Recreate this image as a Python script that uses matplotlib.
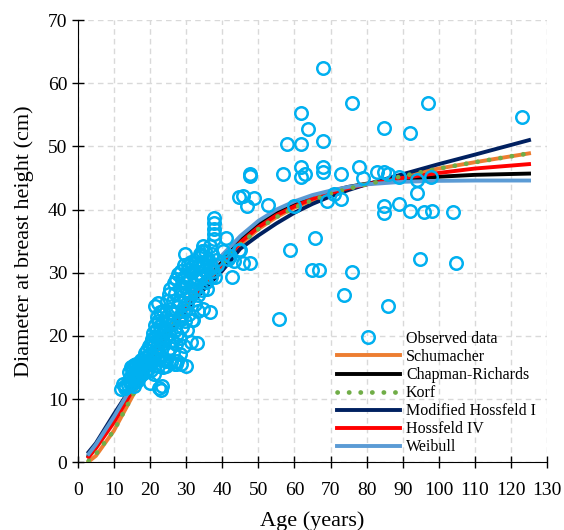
import numpy as np
import matplotlib.pyplot as plt

plt.rcParams['font.family'] = ['Liberation Serif', 'DejaVu Serif']

# observed data (age, dbh)
obs_age = [
    12.0, 12.5, 13.0, 13.2,
    14.0, 14.2, 14.5, 14.3, 14.6, 14.8,
    15.0, 15.2, 15.3, 15.5, 15.6, 15.8, 15.1,
    16.0, 16.2, 16.4, 16.5, 16.7, 16.8,
    17.0, 17.2, 17.5, 17.6, 17.8, 17.3,
    18.0, 18.2, 18.5, 18.6, 18.8,
    19.0, 19.2, 19.4, 19.6, 19.8, 19.5,
    20.0, 20.1, 20.3, 20.4, 20.5, 20.7, 20.9, 20.2,
    21.0, 21.2, 21.3, 21.4, 21.5, 21.7, 21.8, 21.9, 21.4, 21.1,
    22.0, 22.1, 22.2, 22.4, 22.5, 22.6, 22.8, 22.9, 22.3, 22.7,
    23.0, 23.1, 23.3, 23.4, 23.5, 23.6, 23.8, 23.9, 23.2,
    24.0, 24.2, 24.3, 24.5, 24.6, 24.8, 24.9, 24.4,
    25.0, 25.2, 25.3, 25.5, 25.6, 25.8, 25.9, 25.4,
    26.0, 26.2, 26.3, 26.5, 26.6, 26.8, 26.9, 26.4,
    27.0, 27.2, 27.3, 27.4, 27.6, 27.7, 27.9, 27.5, 27.1,
    28.0, 28.2, 28.3, 28.5, 28.6, 28.8, 28.9, 28.4, 28.7,
    29.0, 29.2, 29.3, 29.5, 29.6, 29.7, 29.8, 29.9, 29.4,
    30.0, 30.2, 30.3, 30.5, 30.7, 30.9, 30.4,
    31.0, 31.2, 31.4, 31.6, 31.8, 31.3, 31.5,
    32.0, 32.2, 32.4, 32.6, 32.9, 32.0, 32.5,
    33.0, 33.2, 33.4, 33.6, 33.9, 33.3,
    34.0, 34.2, 34.4, 34.6, 34.8, 34.8, 34.5,
    35.0, 35.2, 35.5, 35.7, 35.9,
    36.0, 36.3, 36.6, 36.6, 36.8,
    37.0, 37.3, 37.6, 37.6, 37.6, 37.6, 37.8, 37.5,
    38.0, 38.3, 38.6,
    41.0, 41.7, 42.6, 40.3, 44.9, 45.8, 47.7, 42.1, 43.4, 44.7,
    67.9, 75.9, 96.9, 123.0, 61.7, 63.7, 57.9, 61.8, 67.8, 84.7, 91.9,
    47.8, 47.8, 56.8, 61.7, 61.8, 63.0, 67.9, 67.9, 72.8, 77.8, 79.0,
    82.9, 84.9, 85.9, 88.9, 94.0, 97.8, 94.0, 88.9, 84.9, 84.9, 91.9,
    95.8, 98.1, 103.9, 44.7, 45.8, 48.8, 46.8, 52.8, 59.8, 68.9, 71.0,
    73.0, 58.8, 65.8, 64.8, 66.9, 75.9, 94.8, 104.9, 73.8, 85.8, 55.8,
]
obs_dbh = [
    11.6, 12.3, 12.0, 11.8,
    12.2, 13.0, 12.6, 14.2, 15.0, 13.6,
    12.4, 13.3, 14.7, 15.4, 12.0, 13.9, 15.0,
    14.4, 15.6, 13.2, 12.8, 15.0, 14.0,
    13.5, 15.8, 14.6, 16.2, 13.9, 15.2,
    15.0, 16.5, 14.2, 17.3, 15.6,
    16.0, 17.8, 14.8, 16.9, 18.4, 15.5,
    17.2, 12.5, 18.8, 15.9, 19.5, 16.7, 20.4, 14.6,
    17.5, 18.6, 21.8, 15.4, 19.8, 20.9, 16.3, 23.0, 24.8, 14.0,
    18.2, 22.3, 25.2, 19.6, 11.7, 16.9, 23.8, 20.7, 15.2, 21.5,
    11.5, 17.8, 19.3, 22.0, 15.0, 24.0, 20.4, 16.4, 12.1,
    18.8, 21.2, 23.0, 16.0, 25.5, 19.9, 17.4, 15.3,
    22.5, 20.3, 26.6, 18.1, 24.2, 15.8, 21.7, 27.5,
    19.4, 23.6, 25.6, 17.3, 28.4, 21.0, 15.6, 22.4,
    26.8, 18.7, 29.0, 24.5, 20.3, 29.8, 22.7, 16.0, 15.5,
    25.3, 27.6, 19.7, 30.2, 23.2, 28.8, 21.4, 17.2, 15.6,
    26.5, 24.0, 29.4, 18.4, 27.8, 33.0, 22.3, 15.2, 31.2,
    28.3, 25.2, 20.9, 30.6, 27.0, 23.4, 31.4,
    29.2, 26.2, 31.7, 22.5, 28.0, 19.0, 30.9,
    30.2, 27.3, 25.1, 29.4, 18.9, 22.5, 31.5,
    28.8, 31.3, 26.5, 30.0, 33.0, 24.0,
    29.5, 32.6, 27.3, 31.0, 34.3, 24.3, 33.5,
    30.4, 33.5, 28.5, 31.8, 27.4,
    32.2, 30.6, 23.8, 34.2, 29.4,
    31.0, 33.0, 35.4, 36.2, 37.0, 37.8, 38.7, 30.2,
    29.4, 32.0, 31.3,
    35.5, 32.1, 29.4, 33.4, 33.6, 31.5, 31.5, 32.7, 31.8, 33.6,
    62.4, 56.8, 56.8, 54.6, 55.3, 52.7, 50.4, 50.4, 50.9, 52.9, 52.2,
    45.7, 45.3, 45.6, 46.8, 45.2, 45.7, 46.8, 45.9, 45.6, 46.7, 45.0,
    45.9, 45.9, 45.7, 45.1, 44.7, 45.1, 42.6, 40.9, 40.5, 39.4, 39.8,
    39.6, 39.8, 39.6, 42.0, 42.1, 41.8, 40.5, 40.8, 40.5, 41.3, 42.4,
    41.7, 33.6, 35.5, 30.4, 30.4, 30.1, 32.1, 31.6, 26.4, 24.7, 22.6,
]

# fitted model curves
model_age = [3, 5, 10, 15, 20, 25, 30, 35, 40, 45, 50, 55, 60, 65, 70, 75, 80, 90, 100, 110, 125]
schumacher = [0.1, 1.0, 5.0, 10.3, 15.6, 20.4, 24.6, 28.2, 31.2, 34.5, 36.9, 38.8, 40.3, 41.5, 42.5, 43.3, 44.0, 45.3, 46.5, 47.5, 48.9]
chapman = [1.0, 2.6, 7.2, 12.0, 16.7, 21.1, 25.1, 28.6, 31.7, 35.2, 37.6, 39.5, 40.9, 42.0, 42.9, 43.6, 44.1, 44.8, 45.2, 45.5, 45.7]
korf = [0.2, 1.3, 5.0, 10.4, 15.7, 20.5, 24.7, 28.3, 31.3, 34.5, 36.9, 38.8, 40.3, 41.5, 42.5, 43.3, 44.0, 45.3, 46.5, 47.5, 48.9]
mod_hossfeld = [1.6, 3.0, 7.6, 12.0, 16.3, 20.4, 24.1, 27.4, 30.3, 33.8, 35.9, 37.8, 39.5, 40.9, 42.1, 43.1, 44.0, 45.6, 47.2, 48.7, 51.0]
hossfeld4 = [0.8, 2.2, 6.3, 11.2, 16.2, 20.8, 24.9, 28.4, 31.4, 34.8, 37.2, 39.1, 40.5, 41.7, 42.6, 43.4, 44.0, 45.0, 45.8, 46.5, 47.2]
weibull = [1.3, 2.8, 7.2, 12.0, 16.8, 21.3, 25.5, 29.3, 32.8, 35.8, 38.2, 40.0, 41.3, 42.3, 43.0, 43.6, 44.0, 44.4, 44.55, 44.6, 44.6]

fig = plt.figure(figsize=(5.64, 5.30), dpi=100)
ax = fig.add_axes([0.138, 0.128, 0.832, 0.834])

ax.plot(obs_age, obs_dbh, 'o', ms=9, mfc='none', mec='#00B0F0', mew=1.8, zorder=5, label='Observed data')
ax.plot(model_age, schumacher, color='#ED7D31', lw=2.8, label='Schumacher', zorder=3)
ax.plot(model_age, chapman, color='black', lw=2.8, label='Chapman-Richards', zorder=3)
ax.plot(model_age, korf, color='#70AD47', lw=3.4, ls=(0, (0.05, 2.4)), dash_capstyle='round', label='Korf', zorder=4)
ax.plot(model_age, mod_hossfeld, color='#002060', lw=2.8, label='Modified Hossfeld I', zorder=3)
ax.plot(model_age, hossfeld4, color='#FF0000', lw=2.8, label='Hossfeld IV', zorder=3)
ax.plot(model_age, weibull, color='#5B9BD5', lw=2.8, label='Weibull', zorder=3)

ax.set_xlim(0, 130)
ax.set_ylim(0, 70)
ax.set_xticks(np.arange(0, 131, 10))
ax.set_yticks(np.arange(0, 71, 10))
ax.grid(True, color='#D9D9D9', ls=(0, (4, 3)), lw=1)
ax.set_axisbelow(True)
for s in ('top', 'right'):
    ax.spines[s].set_visible(False)
ax.tick_params(direction='inout', length=8, width=1, labelsize=14)
ax.tick_params(axis='x', pad=10)
ax.set_xlabel('Age (years)', fontsize=16, labelpad=9)
ax.set_ylabel('Diameter at breast height (cm)', fontsize=16, labelpad=10)

ax.legend(loc='lower right', bbox_to_anchor=(1.0, -0.01), frameon=False, fontsize=11.5,
          handlelength=3.9, labelspacing=0.13, handletextpad=0.4, borderaxespad=0.3)

fig.savefig('out.png', dpi=100)
